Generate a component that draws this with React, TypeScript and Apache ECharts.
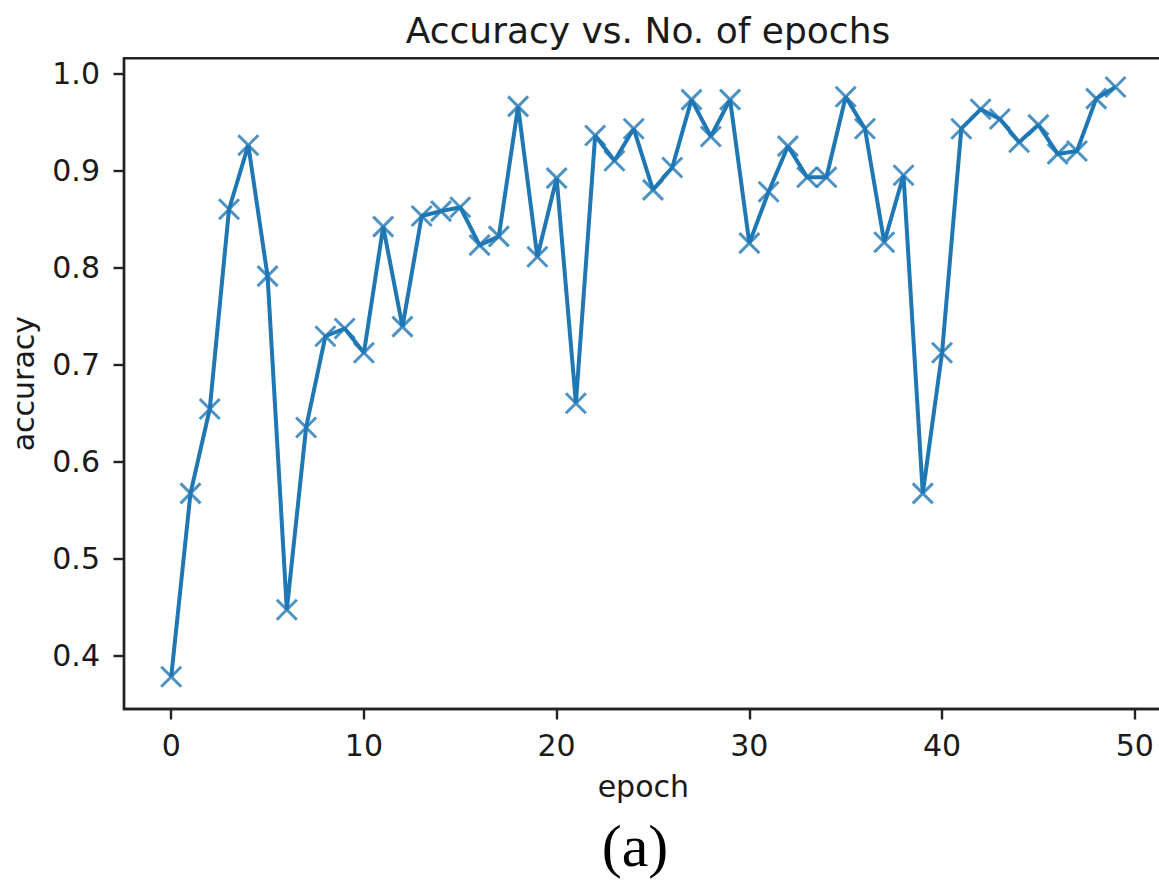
import React, { useEffect, useRef } from "react";
import * as echarts from "echarts";

const epochs: number[] = Array.from({ length: 50 }, (_, i) => i);
const accuracy: number[] = [
  0.378, 0.567, 0.654, 0.86, 0.926, 0.791, 0.447, 0.635, 0.729, 0.737,
  0.712, 0.842, 0.739, 0.853, 0.858, 0.862, 0.823, 0.832, 0.966, 0.811,
  0.892, 0.66, 0.936, 0.91, 0.943, 0.88, 0.903, 0.973, 0.935, 0.973,
  0.825, 0.878, 0.925, 0.893, 0.893, 0.976, 0.943, 0.826, 0.895, 0.567,
  0.712, 0.943, 0.963, 0.953, 0.929, 0.947, 0.917, 0.92, 0.974, 0.986,
];
const xTicks: number[] = [0, 10, 20, 30, 40, 50];
const yTicks: number[] = [0.4, 0.5, 0.6, 0.7, 0.8, 0.9, 1.0];

const FONT = "'DejaVu Sans', sans-serif";
const INK = "#1a1a1a";
const BLUE = "#1f77b4";

export default function App() {
  const ref = useRef<HTMLDivElement>(null);
  useEffect(() => {
    if (!ref.current) return;
    const chart = echarts.init(ref.current, undefined, { renderer: "svg" });
    const data = epochs.map((e, i) => [e, accuracy[i]]);
    chart.setOption({
      animation: false,
      backgroundColor: "#ffffff",
      title: {
        text: "Accuracy vs. No. of epochs",
        left: 643,
        textAlign: "center",
        top: 7,
        textStyle: { fontFamily: FONT, fontSize: 36, fontWeight: "normal", color: INK },
      },
      grid: {
        left: 123.5,
        top: 58.2,
        width: 1039.2,
        height: 650.8,
        show: true,
        borderColor: "#222",
        borderWidth: 2.4,
        backgroundColor: "transparent",
      },
      xAxis: {
        type: "value",
        min: -2.45,
        max: 51.45,
        name: "epoch",
        nameLocation: "middle",
        nameGap: 62,
        nameTextStyle: { fontFamily: FONT, fontSize: 30, color: INK },
        axisLine: { show: true, onZero: false, lineStyle: { color: "#222", width: 2.4 } },
        axisTick: {
          show: true,
          inside: false,
          length: 10.5,
          customValues: xTicks,
          lineStyle: { color: "#222", width: 2.4 },
        },
        axisLabel: {
          customValues: xTicks,
          margin: 21,
          fontFamily: FONT,
          fontSize: 30,
          color: INK,
          formatter: (v: number) => String(v),
        },
        splitLine: { show: false },
      },
      yAxis: {
        type: "value",
        min: 0.3447,
        max: 1.0157,
        name: "accuracy",
        nameLocation: "middle",
        nameGap: 86,
        nameTextStyle: { fontFamily: FONT, fontSize: 30, color: INK },
        axisLine: { show: true, onZero: false, lineStyle: { color: "#222", width: 2.4 } },
        axisTick: {
          show: true,
          inside: false,
          length: 10.5,
          customValues: yTicks,
          lineStyle: { color: "#222", width: 2.4 },
        },
        axisLabel: {
          customValues: yTicks,
          margin: 24,
          fontFamily: FONT,
          fontSize: 30,
          color: INK,
          formatter: (v: number) => v.toFixed(1),
        },
        splitLine: { show: false },
      },
      graphic: [
        {
          type: "text",
          x: 635,
          y: 846,
          style: {
            text: "(a)",
            fontFamily: "'Liberation Serif', 'Times New Roman', serif",
            fontSize: 60,
            fill: "#000",
            textAlign: "center",
            textVerticalAlign: "middle",
          },
        },
      ],
      series: [
        {
          type: "line",
          data,
          symbol: "path://M0,0L10,10M0,10L10,0",
          symbolSize: 20,
          lineStyle: { color: BLUE, width: 4 },
          itemStyle: {
            color: "rgba(0,0,0,0)",
            borderColor: "rgba(31,119,180,0.8)",
            borderWidth: 3,
          },
          emphasis: { disabled: true },
          z: 3,
        },
      ],
    });
    return () => chart.dispose();
  }, []);
  return (
    <div
      style={{
        position: "absolute",
        left: 0,
        top: 0,
        width: 1159,
        height: 882,
        overflow: "hidden",
        background: "#fff",
      }}
    >
      <div ref={ref} style={{ width: 1170, height: 882 }} />
    </div>
  );
}
